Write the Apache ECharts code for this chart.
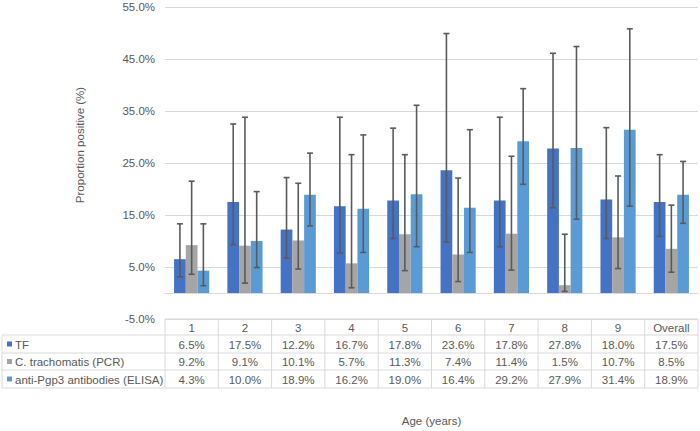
<!DOCTYPE html>
<html>
<head>
<meta charset="utf-8">
<script src="https://cdn.jsdelivr.net/npm/echarts@6/dist/echarts.min.js"></script>
<style>html,body{margin:0;padding:0;background:#fff;}#c{width:700px;height:431px;}</style>
</head>
<body>
<div id="c"></div>
<script>
var categories = ['1','2','3','4','5','6','7','8','9','Overall'];
var seriesNames = ['TF','C. trachomatis (PCR)','anti-Pgp3 antibodies (ELISA)'];
var tf    = [6.5,17.5,12.2,16.7,17.8,23.6,17.8,27.8,18.0,17.5];
var pcr   = [9.2,9.1,10.1,5.7,11.3,7.4,11.4,1.5,10.7,8.5];
var elisa = [4.3,10.0,18.9,16.2,19.0,16.4,29.2,27.9,31.4,18.9];
var tfLow     = [3.1,9.3,6.7,7.7,10.5,9.8,8.9,16.4,10.5,10.9];
var tfHigh    = [13.3,32.5,22.2,33.8,31.7,49.9,33.8,46.1,31.8,26.6];
var pcrLow    = [3.6,1.9,4.6,1.0,4.3,2.2,4.4,0.3,4.7,4.0];
var pcrHigh   = [21.5,33.8,21.1,26.6,26.6,22.1,26.3,11.3,22.5,16.9];
var elisaLow  = [1.4,4.9,12.9,7.8,8.9,7.8,20.9,14.2,16.7,13.4];
var elisaHigh = [13.3,19.5,26.9,30.4,36.1,31.4,39.3,47.4,50.8,25.3];
var yTicks = {min:-5, max:55, interval:10};

var colors = ['#4472C4','#A5A5A5','#5B9BD5'];
var FONT = "'Liberation Sans', Arial, sans-serif";
var TXT = '#595959';
var GRID_LINE = '#d9d9d9';
var CAT_GAP = 0.34;

var values = [tf, pcr, elisa];
var lows = [tfLow, pcrLow, elisaLow];
var highs = [tfHigh, pcrHigh, elisaHigh];

function errSeries(s) {
  var data = categories.map(function(c, i){ return [i, lows[s][i], highs[s][i]]; });
  return {
    type: 'custom',
    name: seriesNames[s] + ' CI',
    data: data,
    encode: {x: 0, y: [1, 2]},
    z: 10,
    silent: true,
    renderItem: function(params, api) {
      var i = api.value(0);
      var lo = api.coord([i, api.value(1)]);
      var hi = api.coord([i, api.value(2)]);
      var band = api.size([1, 0])[0];
      var bw = band * (1 - CAT_GAP) / 3;
      var x = lo[0] + (s - 1) * bw;
      var cap = 3;
      var st = {stroke: '#5a5a5a', lineWidth: 1.6};
      return {
        type: 'group',
        children: [
          {type: 'line', shape: {x1: x, y1: lo[1], x2: x, y2: hi[1]}, style: st},
          {type: 'line', shape: {x1: x - cap, y1: lo[1], x2: x + cap, y2: lo[1]}, style: st},
          {type: 'line', shape: {x1: x - cap, y1: hi[1], x2: x + cap, y2: hi[1]}, style: st}
        ]
      };
    }
  };
}

var series = [];
for (var s = 0; s < 3; s++) {
  series.push({
    type: 'bar',
    name: seriesNames[s],
    data: values[s],
    barGap: '0%',
    barCategoryGap: (CAT_GAP * 100) + '%',
    itemStyle: {color: colors[s]},
    z: 2
  });
}
for (var s2 = 0; s2 < 3; s2++) series.push(errSeries(s2));

var chart = echarts.init(document.getElementById('c'), null, {renderer: 'svg'});
chart.setOption({
  animation: false,
  textStyle: {fontFamily: FONT},
  grid: {left: 165, right: 2, top: 7, bottom: 112, containLabel: false},
  xAxis: {
    type: 'category',
    data: categories,
    axisLine: {show: true, onZero: true, lineStyle: {color: GRID_LINE, width: 1}},
    axisTick: {show: false},
    axisLabel: {show: false},
    splitLine: {show: false}
  },
  yAxis: {
    type: 'value',
    min: yTicks.min, max: yTicks.max, interval: yTicks.interval,
    axisLine: {show: false},
    axisTick: {show: false},
    axisLabel: {
      color: TXT, fontSize: 11.5, fontFamily: FONT, margin: 10,
      formatter: function(v){ return v.toFixed(1) + '%'; }
    },
    splitLine: {lineStyle: {color: GRID_LINE, width: 1}}
  },
  series: series
});

// Data table below the plot, positioned from the category axis
var x0 = chart.convertToPixel({xAxisIndex: 0}, 0);
var x1 = chart.convertToPixel({xAxisIndex: 0}, 1);
var band = x1 - x0;
var tableTop = chart.convertToPixel({yAxisIndex: 0}, yTicks.min);
var left = x0 - band / 2;
var right = left + band * categories.length;
var rowTops = [tableTop, tableTop + 16, tableTop + 34, tableTop + 51, tableTop + 69];
var g = [];
var lineStyle = {stroke: GRID_LINE, lineWidth: 1};
function hline(xa, xb, y){ g.push({type:'line', shape:{x1:xa, y1:y, x2:xb, y2:y}, style: lineStyle, silent:true}); }
function vline(x, ya, yb){ g.push({type:'line', shape:{x1:x, y1:ya, x2:x, y2:yb}, style: lineStyle, silent:true}); }
function text(x, y, t, align){
  g.push({type:'text', x:x, y:y, silent:true,
    style:{text:t, fill:TXT, font:'11.5px ' + FONT, textAlign: align || 'center', textVerticalAlign:'middle'}});
}
hline(left, right, rowTops[0]);
for (var r = 1; r < rowTops.length; r++) hline(2, right, rowTops[r]);
vline(2, rowTops[1], rowTops[4]);
for (var c = 0; c <= categories.length; c++) vline(left + c * band, rowTops[0], rowTops[4]);
for (var c2 = 0; c2 < categories.length; c2++) {
  var cx = left + (c2 + 0.5) * band;
  text(cx, (rowTops[0] + rowTops[1]) / 2 + 0.5, categories[c2]);
  for (var s3 = 0; s3 < 3; s3++) {
    text(cx, (rowTops[s3 + 1] + rowTops[s3 + 2]) / 2 + 0.5, values[s3][c2].toFixed(1) + '%');
  }
}
for (var s4 = 0; s4 < 3; s4++) {
  var cy = (rowTops[s4 + 1] + rowTops[s4 + 2]) / 2;
  g.push({type:'rect', shape:{x:7, y:cy - 2.5, width:5, height:5}, style:{fill: colors[s4]}, silent:true});
  text(15, cy + 0.5, seriesNames[s4], 'left');
}
// axis titles
g.push({type:'text', x:80, y:145, rotation: Math.PI/2, silent:true,
  style:{text:'Proportion positive (%)', fill:TXT, font:'11.5px ' + FONT, textAlign:'center', textVerticalAlign:'middle'}});
text((left + right) / 2, 421, 'Age (years)');

chart.setOption({graphic: {elements: g}});
</script>
</body>
</html>
